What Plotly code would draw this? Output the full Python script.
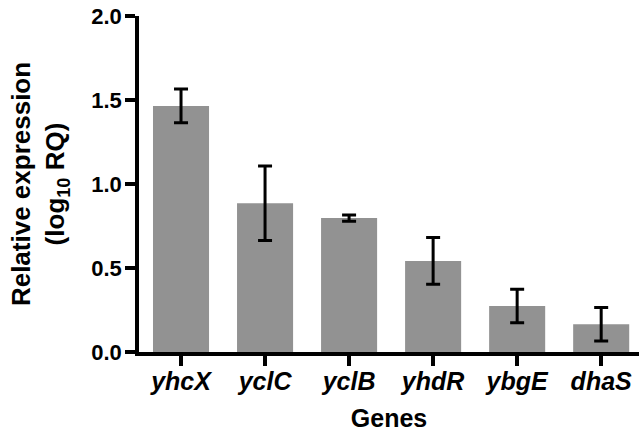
import plotly.graph_objects as go

genes = ["yhcX", "yclC", "yclB", "yhdR", "ybgE", "dhaS"]
values = [1.465, 0.885, 0.797, 0.542, 0.274, 0.165]
errors = [0.10, 0.222, 0.018, 0.139, 0.10, 0.10]
y_ticks = [0.0, 0.5, 1.0, 1.5, 2.0]
y_tick_labels = ["0.0", "0.5", "1.0", "1.5", "2.0"]

FONT = "Liberation Sans, Arial, sans-serif"

fig = go.Figure()
fig.add_trace(go.Bar(
    x=list(range(len(genes))),
    y=values,
    width=0.667,
    marker=dict(color="#929292", line=dict(width=0)),
    error_y=dict(type="data", array=errors, visible=True,
                 color="black", thickness=3, width=7),
))

fig.update_layout(
    width=639, height=436,
    margin=dict(l=139, r=0, t=16, b=84),
    paper_bgcolor="white", plot_bgcolor="white",
    showlegend=False,
    font=dict(family=FONT, color="black"),
    xaxis=dict(
        range=[-0.5, 5.45],
        tickmode="array",
        tickvals=list(range(len(genes))),
        ticktext=["<b><i>%s</i></b>" % g for g in genes],
        tickfont=dict(size=25, family=FONT, color="black"),
        ticks="outside", ticklen=10, tickwidth=3.5, tickcolor="black",
        ticklabelstandoff=-6,
        showline=True, linecolor="black", linewidth=3.5,
        showgrid=False, zeroline=False,
        title=dict(text="<b>Genes</b>", font=dict(size=25, family=FONT, color="black"), standoff=17),
    ),
    yaxis=dict(
        range=[0, 2.0],
        tickmode="array",
        tickvals=y_ticks,
        ticktext=["<b>%s</b>" % t for t in y_tick_labels],
        tickfont=dict(size=22, family=FONT, color="black"),
        ticks="outside", ticklen=10, tickwidth=3.5, tickcolor="black",
        ticklabelstandoff=-1,
        showline=True, linecolor="black", linewidth=3.5,
        showgrid=False, zeroline=False,
        title=dict(text="<b>Relative expression<br>(log<sub>10</sub> RQ)</b>",
                   font=dict(size=26, family=FONT, color="black"), standoff=20),
    ),
)

fig.write_html("out.html", config={"displayModeBar": False},
               post_script="document.body.style.margin='0';")
